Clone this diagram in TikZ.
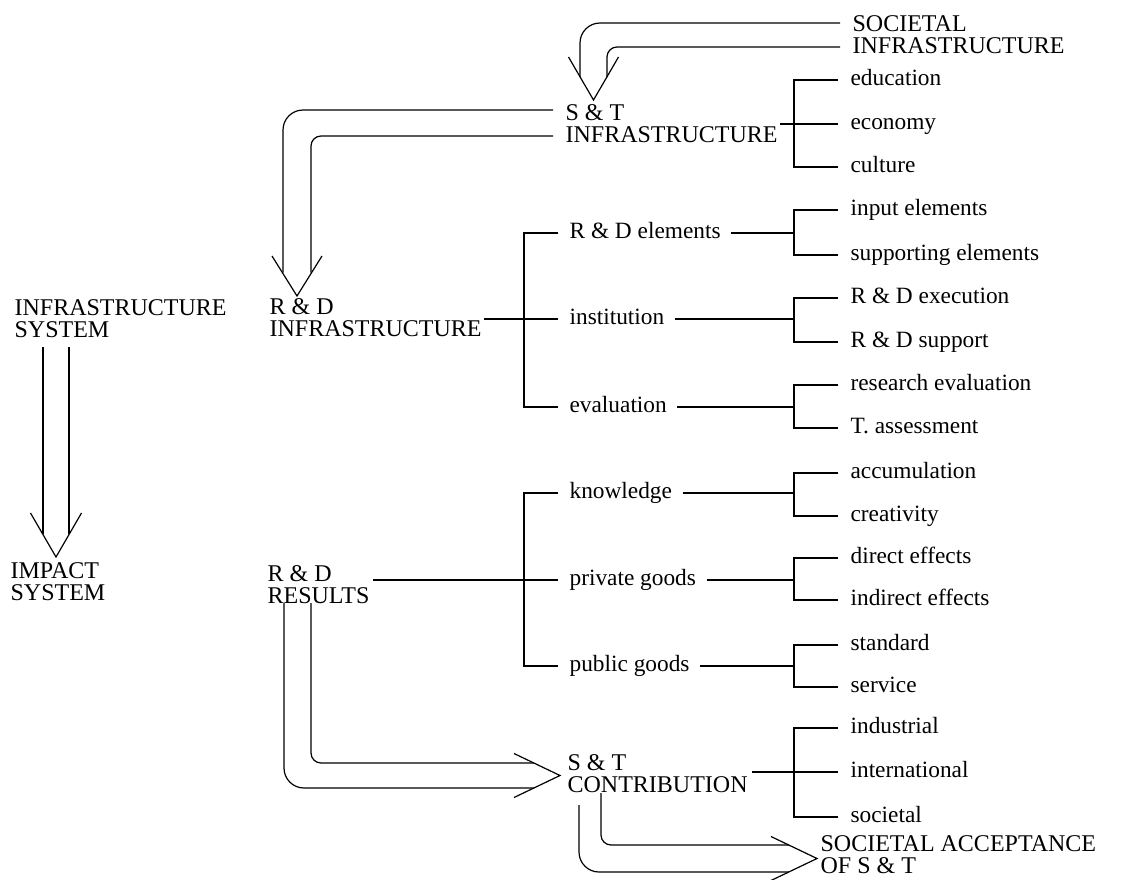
\documentclass[tikz,border=0pt]{standalone}
\usepackage{fontspec}
\setmainfont{Liberation Serif}
\usetikzlibrary{calc}
\newcommand\twig[3]{%
  \draw ([xshift=7.5pt]#1.east) -- (#1.east -| B2);
  \draw ([xshift=-9pt]#2.west) -- (#2.west -| B2) -- (#3.west -| B2) -- ([xshift=-9pt]#3.west);}
\begin{document}
\begin{tikzpicture}[x=0.75pt,y=-0.75pt,line width=0.9pt,
  headtxt/.style={font=\fontsize{18}{16.5}\selectfont, align=left, inner sep=0pt, anchor=north west},
  lbl/.style={font=\fontsize{17.5}{18}\selectfont, inner sep=0pt, anchor=west, text height=7.9pt, text depth=0pt},
  ]
\fill[white] (0,0) rectangle (1132,879);
\useasboundingbox (0,0) rectangle (1132,879);
\coordinate (B1) at (524,0);
\coordinate (B2) at (794,0);

% two-line headings
\node[headtxt] (socinf) at (852,15)  {SOCIETAL\\INFRASTRUCTURE};
\node[headtxt] (stinf)  at (565,104) {S \& T\\INFRASTRUCTURE};
\node[headtxt] (rdinf)  at (269,298) {R \& D\\INFRASTRUCTURE};
\node[headtxt] (infsys) at (14,299)  {INFRASTRUCTURE\\SYSTEM};
\node[headtxt] (impsys) at (10,562)  {IMPACT\\SYSTEM};
\node[headtxt] (rdres)  at (267,565) {R \& D\\RESULTS};
\node[headtxt] (stcon)  at (567,754) {S \& T\\CONTRIBUTION};
\node[headtxt] (socacc) at (820,835) {SOCIETAL ACCEPTANCE\\OF S \& T};

% first-level items
\node[lbl] (rdel)  at (569,233) {R \& D elements};
\node[lbl] (inst)  at (569,319) {institution};
\node[lbl] (evalu) at (569,407) {evaluation};
\node[lbl] (know)  at (569,493) {knowledge};
\node[lbl] (priv)  at (569,580) {private goods};
\node[lbl] (pub)   at (569,666) {public goods};

% leaves
\node[lbl] (edu)   at (850,80)  {education};
\node[lbl] (econ)  at (850,124) {economy};
\node[lbl] (cult)  at (850,167) {culture};
\node[lbl] (inel)  at (850,210) {input elements};
\node[lbl] (supel) at (850,255) {supporting elements};
\node[lbl] (rdex)  at (850,298) {R \& D execution};
\node[lbl] (rdsup) at (850,342) {R \& D support};
\node[lbl] (rsev)  at (850,385) {research evaluation};
\node[lbl] (tass)  at (850,428) {T. assessment};
\node[lbl] (accu)  at (850,473) {accumulation};
\node[lbl] (crea)  at (850,516) {creativity};
\node[lbl] (dire)  at (850,558) {direct effects};
\node[lbl] (indi)  at (850,600) {indirect effects};
\node[lbl] (stand) at (850,645) {standard};
\node[lbl] (serv)  at (850,687) {service};
\node[lbl] (indus) at (850,728) {industrial};
\node[lbl] (intl)  at (850,772) {international};
\node[lbl] (soci)  at (850,817) {societal};

% S&T infrastructure tree
\draw ([xshift=1.5pt]stinf.east |- econ.west) -- ([xshift=-9pt]econ.west);
\draw ([xshift=-9pt]edu.west) -- (edu.west -| B2) -- (cult.west -| B2) -- ([xshift=-9pt]cult.west);

% R&D infrastructure tree
\draw ([xshift=1.5pt]rdinf.east |- inst.west) -- ([xshift=-8.25pt]inst.west);
\draw ([xshift=-8.25pt]rdel.west) -- (rdel.west -| B1) -- (evalu.west -| B1) -- ([xshift=-8.25pt]evalu.west);
\twig{rdel}{inel}{supel}
\twig{inst}{rdex}{rdsup}
\twig{evalu}{rsev}{tass}

% R&D results tree
\draw ([xshift=2.5pt]rdres.east |- priv.west) -- ([xshift=-8.25pt]priv.west);
\draw ([xshift=-8.25pt]know.west) -- (know.west -| B1) -- (pub.west -| B1) -- ([xshift=-8.25pt]pub.west);
\twig{know}{accu}{crea}
\twig{priv}{dire}{indi}
\twig{pub}{stand}{serv}

% S&T contribution tree
\draw ([xshift=3pt]stcon.east |- intl.west) -- ([xshift=-9pt]intl.west);
\draw ([xshift=-9pt]indus.west) -- (indus.west -| B2) -- (soci.west -| B2) -- ([xshift=-9pt]soci.west);

% arrow tips
\coordinate (tipA) at ($(stinf.north west)+(28.5,-4)$);
\coordinate (tipB) at ($(rdinf.north west)+(28,-2)$);
\coordinate (tipC) at ($(impsys.north west)+(46,-5)$);
\coordinate (tipD) at ($(stcon.north west)+(-7,21.5)$);
\coordinate (tipE) at ($(socacc.north west)+(-3,23.5)$);

% A: societal infrastructure -> S&T infrastructure
\draw[rounded corners=15pt] ($(socinf.north west)+(-12,8)$) -- ($(tipA)+(-13.5,-77)$) -- ($(tipA)+(-13.5,-23)$);
\draw[rounded corners=7.5pt] ($(socinf.north west)+(-12,32)$) -- ($(tipA)+(13.5,-53)$) -- ($(tipA)+(13.5,-23)$);
\draw ($(tipA)+(-25,-43)$) -- (tipA) -- ($(tipA)+(25,-43)$);

% B: S&T infrastructure -> R&D infrastructure
\draw[rounded corners=15pt] ($(stinf.north west)+(-12,6)$) -- ($(tipB)+(-14,-186)$) -- ($(tipB)+(-14,-23.5)$);
\draw[rounded corners=7.5pt] ($(stinf.north west)+(-12,32)$) -- ($(tipB)+(14,-160)$) -- ($(tipB)+(14,-23.5)$);
\draw ($(tipB)+(-25,-40)$) -- (tipB) -- ($(tipB)+(25,-40)$);

% C: infrastructure system -> impact system
\draw ($(infsys.north west)+(29,48)$) -- ($(tipC)+(-13,-23)$);
\draw ($(infsys.north west)+(55,48)$) -- ($(tipC)+(13,-23)$);
\draw ($(tipC)+(-25.5,-44)$) -- (tipC) -- ($(tipC)+(25.5,-44)$);

% D: R&D results -> S&T contribution
\draw[rounded corners=15pt] ($(rdres.north west)+(17,38)$) -- ($(tipD)+(-276,12.5)$) -- ($(tipD)+(-26,12.5)$);
\draw[rounded corners=7.5pt] ($(rdres.north west)+(44,38)$) -- ($(tipD)+(-249,-12.5)$) -- ($(tipD)+(-26,-12.5)$);
\draw ($(tipD)+(-46,-22)$) -- (tipD) -- ($(tipD)+(-46,22)$);

% E: S&T contribution -> societal acceptance
\draw[rounded corners=15pt] ($(stcon.north west)+(12,51)$) -- ($(tipE)+(-238,13.5)$) -- ($(tipE)+(-28.2,13.5)$);
\draw[rounded corners=7.5pt] ($(stcon.north west)+(34,39)$) -- ($(tipE)+(-216,-13.5)$) -- ($(tipE)+(-28.2,-13.5)$);
\draw ($(tipE)+(-46,-22)$) -- (tipE) -- ($(tipE)+(-46,22)$);
\end{tikzpicture}
\end{document}
